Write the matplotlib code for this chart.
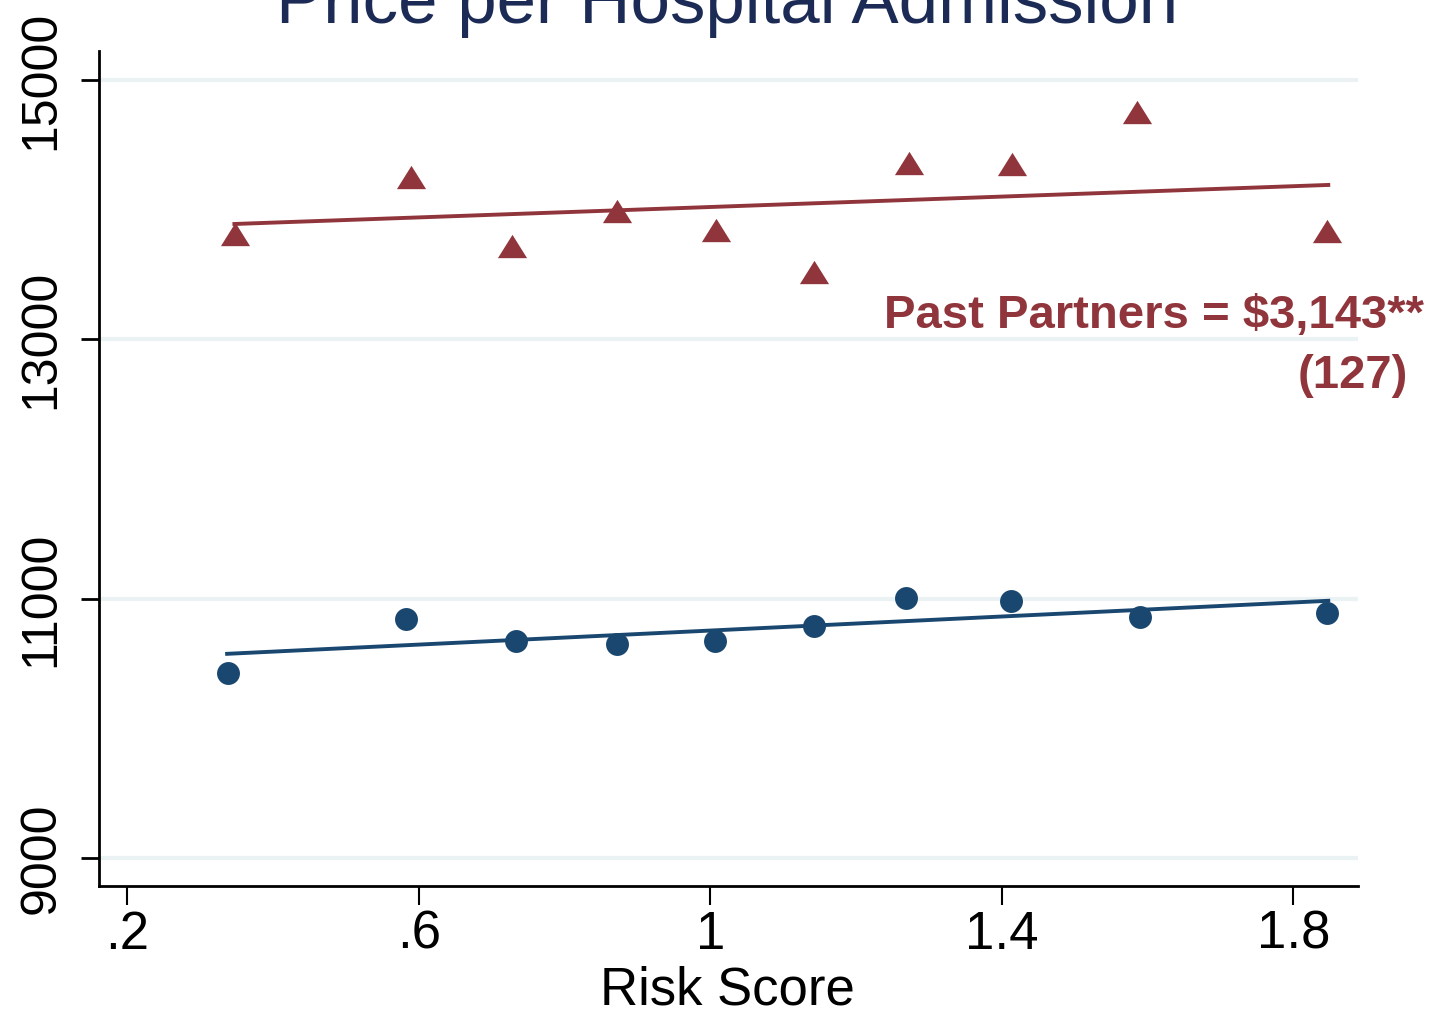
import matplotlib.pyplot as plt

# binned scatter: mean price per admission by risk score bin
risk_past = [0.348, 0.590, 0.728, 0.872, 1.008, 1.142, 1.272, 1.414, 1.586, 1.846]
price_past = [13813, 14252, 13721, 13990, 13844, 13520, 14360, 14353, 14753, 13836]

risk_other = [0.338, 0.582, 0.734, 0.872, 1.006, 1.142, 1.269, 1.413, 1.589, 1.846]
price_other = [10430, 10846, 10676, 10653, 10676, 10792, 11004, 10985, 10861, 10892]

# linear fit endpoints
fit_x = [0.347, 1.848]
fit_past = [13890, 14191]
fit_other_x = [0.337, 1.848]
fit_other = [10576, 10985]

x_ticks = [0.2, 0.6, 1.0, 1.4, 1.8]
x_tick_labels = [".2", ".6", "1", "1.4", "1.8"]
y_ticks = [9000, 11000, 13000, 15000]

red = "#90353b"
navy = "#1a476f"
sans = ["Liberation Sans", "DejaVu Sans"]

fig = plt.figure(figsize=(14.35, 10.13), dpi=100)
ax = fig.add_axes([99 / 1435, 1 - 886 / 1013, (1358 - 99) / 1435, (886 - 50.7) / 1013])

for y in y_ticks:
    ax.axhline(y, color="#eaf2f3", lw=3, zorder=0)

ax.plot(fit_x, fit_past, color=red, lw=2.8, zorder=2)
ax.plot(fit_other_x, fit_other, color=navy, lw=2.8, zorder=2)

tri = [(0, 1), (-1.25, -1), (1.25, -1), (0, 1)]
ax.scatter(risk_past, price_past, marker=tri, s=21**2, color=red, lw=0, zorder=3)
ax.scatter(risk_other, price_other, marker="o", s=16.5**2, color=navy, lw=0, zorder=3)

ax.set_xlim(0.1612, 1.8888)
ax.set_ylim(8786, 15226)

ax.set_xticks(x_ticks)
ax.set_xticklabels(x_tick_labels, family=sans, fontsize=38)
ax.set_yticks(y_ticks)
ax.set_yticklabels([str(v) for v in y_ticks], family=sans, fontsize=36,
                   rotation=90, va="center")
ax.tick_params(axis="x", length=14, width=1.5, pad=3)
ax.tick_params(axis="y", length=13, width=2, pad=12)

for side in ["top", "right"]:
    ax.spines[side].set_visible(False)
for side in ["left", "bottom"]:
    ax.spines[side].set_linewidth(2)

ax.text(1.9787, 13089, "Past Partners = $3,143**", color=red, fontsize=34,
        fontweight="bold", family=sans, ha="right", va="baseline", clip_on=False)
ax.text(1.958, 12626, "(127)", color=red, fontsize=34,
        fontweight="bold", family=sans, ha="right", va="baseline", clip_on=False)

fig.text(727 / 1435, 1 - 1004 / 1013, "Risk Score", family=sans, fontsize=38,
         ha="center", va="baseline")
fig.text(727 / 1435, 1 - 23 / 1013, "Price per Hospital Admission", family=sans,
         fontsize=51, color="#1c2b55", ha="center", va="baseline")

fig.savefig("out.png", dpi=100)
